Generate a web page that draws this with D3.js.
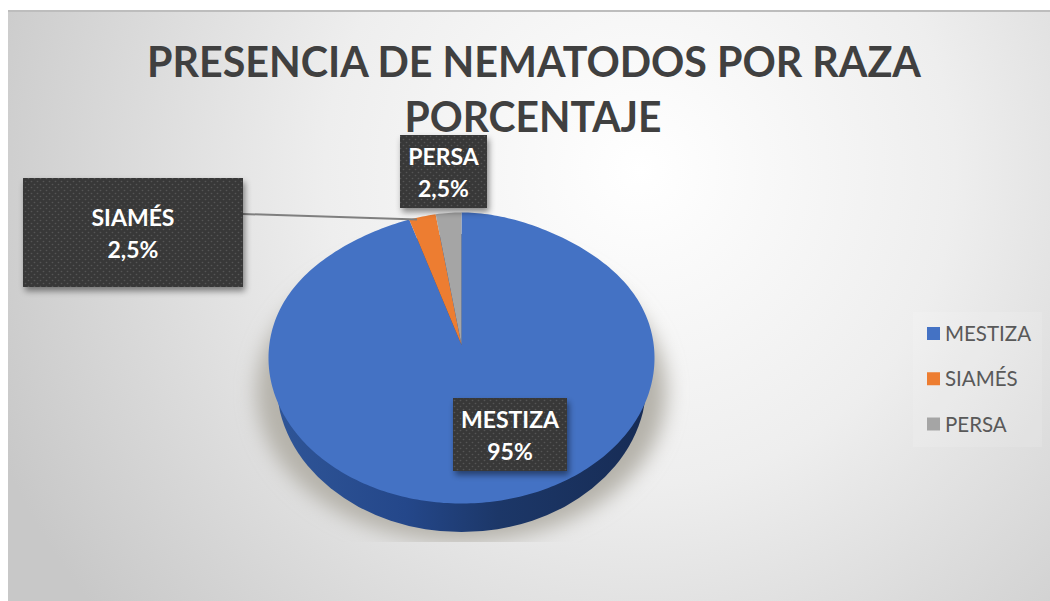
<!DOCTYPE html>
<html>
<head>
<meta charset="utf-8">
<script src="https://cdn.jsdelivr.net/npm/d3@7"></script>
<style>
  html, body { margin: 0; padding: 0; background: #fff; }
  svg { display: block; font-family: Lato, "Open Sans", sans-serif; }
</style>
</head>
<body>
<svg id="chart" width="1050" height="601"></svg>
<script>
// Chart data
const categories = ['MESTIZA', 'SIAMÉS', 'PERSA'];
const values = [95, 2.5, 2.5];
const valueLabels = ['95%', '2,5%', '2,5%'];
const colors = ['#4472C4', '#ED7D31', '#A5A5A5'];
const titleLines = ['PRESENCIA DE NEMATODOS POR RAZA', 'PORCENTAJE'];

const svg = d3.select('#chart');
const defs = svg.append('defs');

// Panel background
const bg = defs.append('radialGradient').attr('id', 'bg')
    .attr('gradientUnits', 'userSpaceOnUse')
    .attr('cx', 640).attr('cy', 170).attr('r', 700);
bg.append('stop').attr('offset', '0%').attr('stop-color', '#ffffff');
bg.append('stop').attr('offset', '45%').attr('stop-color', '#eeeeee');
bg.append('stop').attr('offset', '100%').attr('stop-color', '#c8c8c8');

const side = defs.append('linearGradient').attr('id', 'side');
side.append('stop').attr('offset', '0%').attr('stop-color', '#2f5597');
side.append('stop').attr('offset', '35%').attr('stop-color', '#24478a');
side.append('stop').attr('offset', '60%').attr('stop-color', '#1c3768');
side.append('stop').attr('offset', '100%').attr('stop-color', '#172c55');

defs.append('filter').attr('id', 'blur')
    .attr('x', '-20%').attr('y', '-20%').attr('width', '140%').attr('height', '140%')
    .append('feGaussianBlur').attr('stdDeviation', 10);

const dropShadow = defs.append('filter').attr('id', 'boxShadow')
    .attr('x', '-10%').attr('y', '-10%').attr('width', '125%').attr('height', '130%');
dropShadow.append('feDropShadow')
    .attr('dx', 2).attr('dy', 4).attr('stdDeviation', 3)
    .attr('flood-color', '#000').attr('flood-opacity', 0.45);

const dots = defs.append('pattern').attr('id', 'dots')
    .attr('width', 6).attr('height', 6).attr('patternUnits', 'userSpaceOnUse');
dots.append('rect').attr('width', 6).attr('height', 6).attr('fill', '#393939');
dots.append('circle').attr('cx', 1.5).attr('cy', 1.5).attr('r', 0.8).attr('fill', '#555');
dots.append('circle').attr('cx', 4.5).attr('cy', 4.5).attr('r', 0.8).attr('fill', '#555');

defs.append('clipPath').attr('id', 'shadowClip')
    .append('rect').attr('x', 8).attr('y', 10).attr('width', 1042).attr('height', 532);

svg.append('rect').attr('x', 8).attr('y', 10).attr('width', 1042).attr('height', 591)
    .attr('fill', 'url(#bg)');
svg.append('line').attr('x1', 8).attr('x2', 1050).attr('y1', 11).attr('y2', 11)
    .attr('stroke', '#bdbdbd').attr('stroke-width', 2);

// Title, squeezed to the narrower widths of the original face
const titleWidths = [774, 257];
svg.selectAll('text.title').data(titleLines).join('text')
    .attr('class', 'title')
    .attr('x', (d, i) => i === 0 ? 534 : 533)
    .attr('y', (d, i) => 77 + i * 55)
    .attr('text-anchor', 'middle')
    .attr('font-size', 42)
    .attr('font-weight', 700)
    .attr('fill', '#404040')
    .attr('textLength', (d, i) => titleWidths[i])
    .attr('lengthAdjust', 'spacingAndGlyphs')
    .text(d => d);

// Pie geometry: tilted disc, the hub sits above the middle of the ellipse
const pie3d = { cx: 461.5, cy: 358, rx: 193, ry: 145.5, hubLift: 13, perspective: 0.15 };
const rimShape = { cx: 461.5, cy: 383, rx: 185, ry: 149 };
const shadowShape = { cx: 461.5, cy: 392, rx: 205, ry: 150 };

function project(r, angle) {
    const s = Math.sin(angle), c = Math.cos(angle);
    // far edge of the disc narrows a little
    const narrow = c > 0 ? 1 - pie3d.perspective * Math.pow(c, 4) : 1;
    return [
        pie3d.cx + pie3d.rx * r * s * narrow,
        pie3d.cy - pie3d.ry * r * c - pie3d.hubLift * (1 - r)
    ];
}

function sliceOutline(a0, a1) {
    const steps = Math.max(4, Math.ceil((a1 - a0) / 0.02));
    const pts = d3.range(steps + 1).map(i => project(1, a0 + (a1 - a0) * i / steps));
    return [project(0, 0), ...pts];
}

const line = d3.line().curve(d3.curveLinear);
const arcs = d3.pie().sort(null).value(d => d)(values);
const color = d3.scaleOrdinal().domain(categories).range(colors);

svg.append('g').attr('clip-path', 'url(#shadowClip)')
    .append('ellipse')
    .attr('cx', shadowShape.cx).attr('cy', shadowShape.cy)
    .attr('rx', shadowShape.rx).attr('ry', shadowShape.ry)
    .attr('fill', '#b5b2aa')
    .attr('filter', 'url(#blur)');

// Side wall, then top face
svg.append('ellipse')
    .attr('cx', rimShape.cx).attr('cy', rimShape.cy)
    .attr('rx', rimShape.rx).attr('ry', rimShape.ry)
    .attr('fill', 'url(#side)');
svg.selectAll('path.slice').data(arcs).join('path')
    .attr('class', 'slice')
    .attr('d', d => line(sliceOutline(d.startAngle, d.endAngle)) + 'Z')
    .attr('fill', (d, i) => color(categories[i]));

// Data labels
const labelBoxes = [
    { x: 453, y: 398, w: 114, h: 73 },
    { x: 23, y: 178, w: 220, h: 109 },
    { x: 400, y: 135, w: 87, h: 73 }
];

svg.append('line')
    .attr('x1', 243).attr('y1', 214).attr('x2', 417).attr('y2', 219.5)
    .attr('stroke', '#7f7f7f').attr('stroke-width', 2);

const labels = svg.selectAll('g.label').data(categories).join('g').attr('class', 'label');
labels.append('rect')
    .attr('x', (d, i) => labelBoxes[i].x).attr('y', (d, i) => labelBoxes[i].y)
    .attr('width', (d, i) => labelBoxes[i].w).attr('height', (d, i) => labelBoxes[i].h)
    .attr('fill', 'url(#dots)')
    .attr('filter', 'url(#boxShadow)');
labels.append('text')
    .attr('x', (d, i) => labelBoxes[i].x + labelBoxes[i].w / 2)
    .attr('y', (d, i) => labelBoxes[i].y + labelBoxes[i].h / 2 - 7)
    .attr('text-anchor', 'middle').attr('font-size', 23).attr('font-weight', 700)
    .attr('fill', '#fff').text(d => d);
labels.append('text')
    .attr('x', (d, i) => labelBoxes[i].x + labelBoxes[i].w / 2)
    .attr('y', (d, i) => labelBoxes[i].y + labelBoxes[i].h / 2 + 25)
    .attr('text-anchor', 'middle').attr('font-size', 23).attr('font-weight', 700)
    .attr('fill', '#fff').text((d, i) => valueLabels[i]);

// Legend
svg.append('rect').attr('x', 913).attr('y', 312).attr('width', 129).attr('height', 135)
    .attr('fill', '#ffffff').attr('opacity', 0.12);
const legendY = d3.scalePoint().domain(categories).range([333.5, 424]);
const legend = svg.selectAll('g.legend').data(categories).join('g')
    .attr('class', 'legend')
    .attr('transform', d => `translate(927,${legendY(d)})`);
legend.append('rect').attr('y', -6.5).attr('width', 13).attr('height', 13).attr('fill', d => color(d));
legend.append('text').attr('x', 18).attr('y', 7.5)
    .attr('font-size', 20.5).attr('fill', '#595959').text(d => d);
</script>
</body>
</html>
